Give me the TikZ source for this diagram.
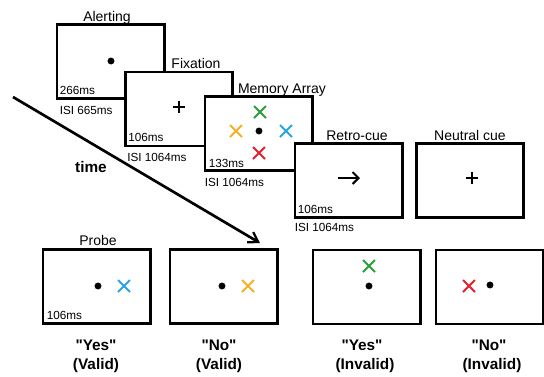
\documentclass[tikz,border=0pt]{standalone}
\usepackage{fontspec}
\setmainfont{Liberation Sans}[Ligatures=TeXOff]
\usetikzlibrary{arrows.meta}
\definecolor{xgreen}{RGB}{40,160,60}
\definecolor{xorange}{RGB}{245,176,40}
\definecolor{xblue}{RGB}{40,165,230}
\definecolor{xred}{RGB}{232,30,45}
\tikzset{
  screen/.style={draw, line width=2pt, fill=white, inner sep=0pt,
    minimum width=80.5pt, minimum height=55.5pt},
  lbl/.style={anchor=base, font=\fontsize{10.5}{12}\selectfont, inner sep=0pt},
  small/.style={anchor=base west, font=\fontsize{8.8}{10}\selectfont, inner sep=0pt},
  result/.style={anchor=base, font=\fontsize{11.5}{13}\selectfont\bfseries, inner sep=0pt},
  fixdot/.style={circle, fill=black, inner sep=0pt, minimum size=5.2pt},
  xmark/.style={line width=1.5pt},
  plusmark/.style={line width=2.1pt}
}
\newcommand{\xcross}[2]{\draw[xmark,#1] ([shift={(-6,-6)}]#2) -- ([shift={(6,6)}]#2) ([shift={(-6,6)}]#2) -- ([shift={(6,-6)}]#2);}
\newcommand{\pluscross}[1]{\draw[plusmark] ([shift={(-6,0)}]#1) -- ([shift={(6,0)}]#1) ([shift={(0,-6)}]#1) -- ([shift={(0,6)}]#1);}
\begin{document}
\begin{tikzpicture}[x=0.75pt,y=-0.75pt]
\useasboundingbox (0,0) rectangle (544,376);

% time arrow
\coordinate (tstart) at (13,97);
\coordinate (tend) at (260,243);
\draw[line width=2pt, -{Straight Barb[length=7pt,width=9pt,line width=1.7pt]}] (tstart) -- (tend);
\node[result] (time) at (91,172) {time};

% Alerting
\node[screen] (alert) at (110.5,61.5) {};
\node[fixdot] (alertdot) at (111,61) {};
\node[lbl] (alertlbl) at (107,21) {Alerting};
\node[small] (alertms) at ([shift={(4,-5)}]alert.south west) {266ms};
\node[small] (alertisi) at ([shift={(4,15)}]alert.south west) {ISI 665ms};

% Fixation
\node[screen] (fix) at (179,109) {};
\coordinate (fixplus) at (179,107);
\pluscross{fixplus}
\node[lbl] (fixlbl) at (196,68) {Fixation};
\node[small] (fixms) at ([shift={(4,-6)}]fix.south west) {106ms};
\node[small] (fixisi) at ([shift={(3,14)}]fix.south west) {ISI 1064ms};

% Memory array
\node[screen] (mem) at (258.5,133.5) {};
\node[fixdot] (memdot) at (259,131) {};
\coordinate (memg) at (260,112);
\coordinate (memo) at (236,131);
\coordinate (memb) at (286,131);
\coordinate (memr) at (259,153);
\xcross{xgreen}{memg}
\xcross{xorange}{memo}
\xcross{xblue}{memb}
\xcross{xred}{memr}
\node[lbl] (memlbl) at (282,93) {Memory Array};
\node[small] (memms) at ([shift={(5,-4)}]mem.south west) {133ms};
\node[small] (memisi) at ([shift={(1,15)}]mem.south west) {ISI 1064ms};

% Retro-cue
\node[screen] (retro) at (348.5,180.5) {};
\coordinate (ra) at (338,178);
\coordinate (rb) at (360,178);
\draw[line width=1.5pt, -{Straight Barb[length=4.5pt,width=9pt,line width=1.5pt]}] (ra) -- (rb);
\node[lbl] (retrolbl) at (357,140) {Retro-cue};
\node[small] (retroms) at ([shift={(4,-5)}]retro.south west) {106ms};
\node[small] (retroisi) at ([shift={(1,13)}]retro.south west) {ISI 1064ms};

% Neutral cue
\node[screen] (neutral) at (470,180.5) {};
\coordinate (neuplus) at (472,178);
\pluscross{neuplus}
\node[lbl] (neulbl) at (470,140) {Neutral cue};

% Probes
\node[screen] (p1) at (96.5,286.5) {};
\node[fixdot] (p1dot) at (98,286) {};
\coordinate (p1x) at (124,286);
\xcross{xblue}{p1x}
\node[lbl] (probelbl) at (98,245) {Probe};
\node[small] (p1ms) at ([shift={(5,-5)}]p1.south west) {106ms};
\node[result] (p1a) at (96,350) {"Yes"};
\node[result] (p1b) at (96,369) {(Valid)};

\node[screen] (p2) at (223.5,286.5) {};
\node[fixdot] (p2dot) at (222,286) {};
\coordinate (p2x) at (248,286);
\xcross{xorange}{p2x}
\node[result] (p2a) at (219,350) {"No"};
\node[result] (p2b) at (219,369) {(Valid)};

\node[screen] (p3) at (366.5,287) {};
\node[fixdot] (p3dot) at (369,286) {};
\coordinate (p3x) at (369,266);
\xcross{xgreen}{p3x}
\node[result] (p3a) at (362,350) {"Yes"};
\node[result] (p3b) at (365,369) {(Invalid)};

\node[screen] (p4) at (489.5,287) {};
\node[fixdot] (p4dot) at (490,285) {};
\coordinate (p4x) at (469,286);
\xcross{xred}{p4x}
\node[result] (p4a) at (489,350) {"No"};
\node[result] (p4b) at (492,369) {(Invalid)};
\end{tikzpicture}
\end{document}
